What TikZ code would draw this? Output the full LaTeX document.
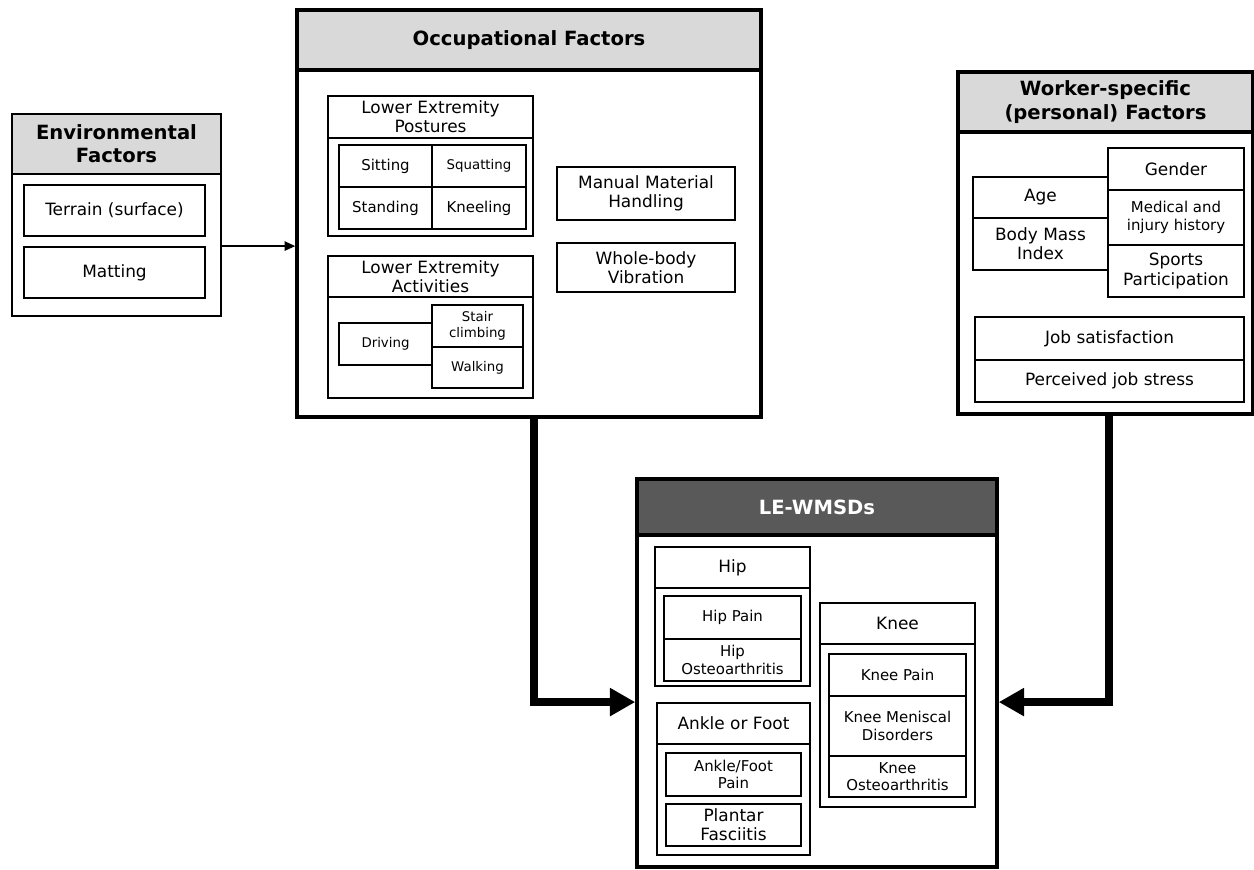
\documentclass[tikz,border=0pt]{standalone}
\usepackage{fontspec}
\setmainfont{DejaVu Sans}
\usetikzlibrary{fit,arrows.meta}

\definecolor{headgray}{HTML}{D9D9D9}
\definecolor{headdark}{HTML}{595959}

\newcommand{\headfont}{\fontsize{14.7}{17.5}\selectfont\bfseries}
\newcommand{\bodyfont}{\fontsize{12.7}{14.5}\selectfont}
\newcommand{\smallfont}{\fontsize{11.2}{13}\selectfont}
\newcommand{\tinyfont}{\fontsize{10}{12}\selectfont}

\tikzset{
  panel/.style={draw, line width=2.6pt, inner sep=0pt},
  panelhead/.style={panel, fill=headgray},
  item/.style={draw, line width=1.4pt, inner sep=0pt},
  headtxt/.style={font=\headfont, align=center, inner sep=0pt},
  txt/.style={font=\bodyfont, align=center, inner sep=0pt},
  smalltxt/.style={font=\smallfont, align=center, inner sep=0pt},
  tinytxt/.style={font=\tinyfont, align=center, inner sep=0pt},
  thinarrow/.style={line width=1.2pt, -{Triangle[length=8pt,width=7pt]}},
  bigarrow/.style={line width=6pt, -{Triangle[length=19pt,width=20pt]}}
}

\begin{document}
\begin{tikzpicture}[x=0.75pt,y=-0.75pt]
\useasboundingbox (0,0) rectangle (1254,869);

% Environmental Factors
\node[panelhead, line width=1.8pt, fit={(12,114)(221,174)},
  label={[headtxt]center:Environmental\\Factors}] (envH) {};
\node[panel, line width=1.8pt, fit={(12,114)(221,316)}] (env) {};
\node[item, fit={(24,185)(205,236)}, label={[txt]center:Terrain (surface)}] (terrain) {};
\node[item, fit={(24,247)(205,298)}, label={[txt]center:Matting}] (matting) {};

% Occupational Factors
\node[panelhead, fit={(297,10)(761,70)}, label={[headtxt]center:Occupational Factors}] (occH) {};
\node[panel, fit={(297,10)(761,417)}] (occ) {};
% postures
\node[item, fit={(328,96)(533,138)}, label={[txt]center:Lower Extremity\\Postures}] (postH) {};
\node[item, fit={(328,96)(533,236)}] (post) {};
\node[item, fit={(339,145)(432,187)}, label={[smalltxt]center:Sitting}] (sitting) {};
\node[item, fit={(432,145)(526,187)}, label={[tinytxt]center:Squatting}] (squatting) {};
\node[item, fit={(339,187)(432,229)}, label={[smalltxt]center:Standing}] (standing) {};
\node[item, fit={(432,187)(526,229)}, label={[smalltxt]center:Kneeling}] (kneeling) {};
% activities
\node[item, fit={(328,256)(533,297)}, label={[txt]center:Lower Extremity\\Activities}] (actH) {};
\node[item, fit={(328,256)(533,398)}] (act) {};
\node[item, fit={(339,323)(432,365)}, label={[tinytxt]center:Driving}] (driving) {};
\node[item, fit={(432,305)(523,347)}, label={[tinytxt]center:Stair\\climbing}] (stair) {};
\node[item, fit={(432,347)(523,388)}, label={[tinytxt]center:Walking}] (walking) {};
% handling, vibration
\node[item, fit={(557,167)(735,220)}, label={[txt]center:Manual Material\\Handling}] (handling) {};
\node[item, fit={(557,243)(735,292)}, label={[txt]center:Whole-body\\Vibration}] (vibration) {};

% Worker-specific Factors
\node[panelhead, fit={(958,72)(1253,132)},
  label={[headtxt]center:Worker-specific\\(personal) Factors}] (wrkH) {};
\node[panel, fit={(958,72)(1253,414)}] (wrk) {};
\node[item, fit={(973,177)(1108,218)}, label={[txt]center:Age}] (age) {};
\node[item, fit={(973,218)(1108,270)}, label={[txt]center:Body Mass\\Index}] (bmi) {};
\node[item, fit={(1108,148)(1244,190)}, label={[txt]center:Gender}] (gender) {};
\node[item, fit={(1108,190)(1244,245)}, label={[smalltxt]center:Medical and\\injury history}] (medical) {};
\node[item, fit={(1108,245)(1244,297)}, label={[txt]center:Sports\\Participation}] (sports) {};
\node[item, fit={(975,317)(1244,360)}, label={[txt]center:Job satisfaction}] (jobsat) {};
\node[item, fit={(975,360)(1244,402)}, label={[txt]center:Perceived job stress}] (stress) {};

% LE-WMSDs
\node[panelhead, fill=headdark, fit={(637,479)(997,535)},
  label={[headtxt, text=white]center:LE-WMSDs}] (lewmH) {};
\node[panel, fit={(637,479)(997,867)}] (lewm) {};
% hip
\node[item, fit={(655,547)(810,588)}, label={[txt]center:Hip}] (hipH) {};
\node[item, fit={(655,547)(810,686)}] (hip) {};
\node[item, fit={(664,596)(801,639)}, label={[smalltxt]center:Hip Pain}] (hippain) {};
\node[item, fit={(664,639)(801,681)}, label={[smalltxt]center:Hip\\Osteoarthritis}] (hipoa) {};
% ankle or foot
\node[item, fit={(657,703)(810,744)}, label={[txt]center:Ankle or Foot}] (ankleH) {};
\node[item, fit={(657,703)(810,855)}] (ankle) {};
\node[item, fit={(666,753)(801,796)}, label={[smalltxt]center:Ankle/Foot\\Pain}] (anklepain) {};
\node[item, fit={(666,804)(801,846)}, label={[txt]center:Plantar\\Fasciitis}] (plantar) {};
% knee
\node[item, fit={(820,603)(975,644)}, label={[txt]center:Knee}] (kneeH) {};
\node[item, fit={(820,603)(975,807)}] (knee) {};
\node[item, fit={(829,654)(966,696)}, label={[smalltxt]center:Knee Pain}] (kneepain) {};
\node[item, fit={(829,696)(966,756)}, label={[smalltxt]center:Knee Meniscal\\Disorders}] (meniscal) {};
\node[item, fit={(829,756)(966,797)}, label={[smalltxt]center:Knee\\Osteoarthritis}] (kneeoa) {};

% Flechas
\draw[thinarrow] (env.east |- matting.north) -- (occ.west |- matting.north);
\draw[bigarrow] (post.east |- occ.south) |- (lewm.west |- ankle.north);
\draw[bigarrow] (age.east |- wrk.south) |- (lewm.east |- ankle.north);
\end{tikzpicture}
\end{document}
